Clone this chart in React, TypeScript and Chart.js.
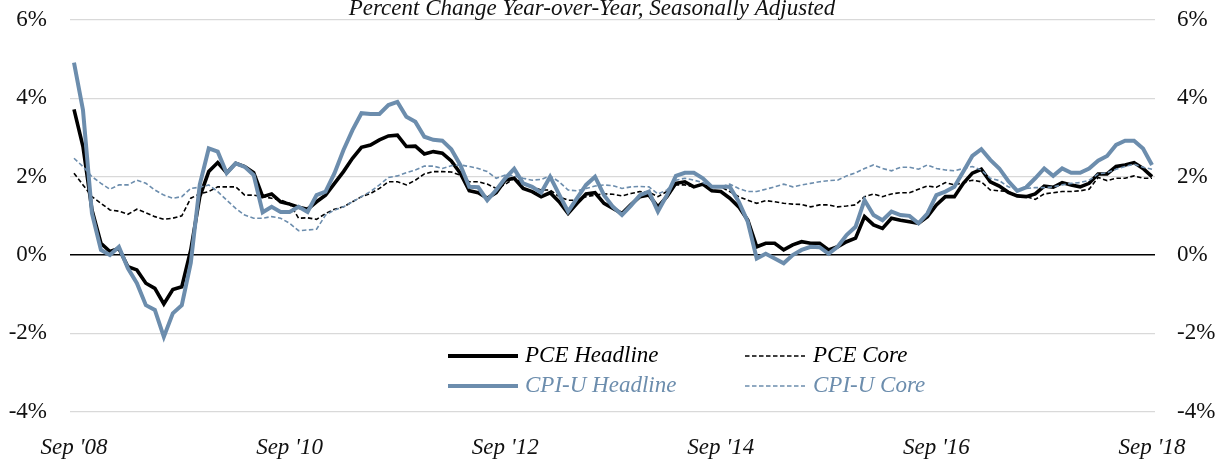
import React, { useEffect, useRef } from "react";
import { Chart, registerables } from "chart.js";

Chart.register(...registerables);

// Monthly, Sep 2008 .. Sep 2018 (121 observations)
const tickMonths = [0, 24, 48, 72, 96, 120];
const tickLabels = ["Sep '08", "Sep '10", "Sep '12", "Sep '14", "Sep '16", "Sep '18"];
const title = "Percent Change Year-over-Year, Seasonally Adjusted";

const pceHeadline = [
  3.72, 2.77, 1.15, 0.30, 0.09, 0.17, -0.30, -0.38, -0.72, -0.85, -1.25, -0.88, -0.81,
  0.13, 1.49, 2.13, 2.36, 2.10, 2.34, 2.26, 2.10, 1.49, 1.56, 1.36, 1.30,
  1.22, 1.17, 1.36, 1.53, 1.83, 2.13, 2.47, 2.75, 2.81, 2.94, 3.04, 3.06,
  2.77, 2.78, 2.58, 2.64, 2.60, 2.40, 2.09, 1.64, 1.59, 1.45, 1.59, 1.91,
  1.96, 1.70, 1.62, 1.49, 1.59, 1.36, 1.06, 1.32, 1.56, 1.59, 1.32, 1.19,
  1.06, 1.29, 1.49, 1.53, 1.23, 1.49, 1.83, 1.87, 1.74, 1.81, 1.64, 1.62,
  1.45, 1.23, 0.89, 0.21, 0.30, 0.30, 0.13, 0.26, 0.34, 0.30, 0.30, 0.13,
  0.21, 0.34, 0.43, 0.98, 0.77, 0.68, 0.94, 0.89, 0.85, 0.81, 0.98, 1.28,
  1.49, 1.49, 1.83, 2.09, 2.19, 1.87, 1.76, 1.60, 1.51, 1.49, 1.56, 1.76,
  1.73, 1.85, 1.79, 1.74, 1.83, 2.07, 2.07, 2.26, 2.30, 2.36, 2.21, 2.00,
];

const pceCore = [
  2.09, 1.79, 1.49, 1.32, 1.15, 1.12, 1.04, 1.17, 1.08, 0.98, 0.91, 0.94, 1.00,
  1.45, 1.56, 1.62, 1.74, 1.74, 1.74, 1.53, 1.53, 1.49, 1.45, 1.40, 1.32,
  0.94, 0.95, 0.91, 1.06, 1.17, 1.23, 1.36, 1.49, 1.57, 1.70, 1.87, 1.87,
  1.79, 1.91, 2.07, 2.13, 2.13, 2.12, 2.04, 1.87, 1.87, 1.81, 1.70, 1.80,
  1.96, 1.83, 1.74, 1.66, 1.66, 1.49, 1.40, 1.40, 1.49, 1.53, 1.56, 1.55,
  1.51, 1.57, 1.62, 1.60, 1.49, 1.62, 1.79, 1.79, 1.74, 1.79, 1.73, 1.74,
  1.62, 1.49, 1.40, 1.32, 1.39, 1.36, 1.32, 1.30, 1.29, 1.23, 1.28, 1.28,
  1.23, 1.25, 1.28, 1.49, 1.56, 1.49, 1.56, 1.59, 1.59, 1.68, 1.76, 1.73,
  1.85, 1.79, 1.85, 1.91, 1.87, 1.66, 1.64, 1.62, 1.50, 1.49, 1.42, 1.56,
  1.59, 1.62, 1.62, 1.64, 1.68, 1.98, 1.90, 1.96, 1.96, 2.02, 1.96, 1.96,
];

const cpiHeadline = [
  4.91, 3.70, 1.06, 0.13, 0.00, 0.21, -0.34, -0.72, -1.28, -1.40, -2.09, -1.49, -1.28,
  -0.20, 1.80, 2.72, 2.64, 2.09, 2.34, 2.25, 2.04, 1.09, 1.23, 1.10, 1.10,
  1.23, 1.10, 1.53, 1.62, 2.09, 2.68, 3.19, 3.62, 3.60, 3.60, 3.83, 3.91,
  3.53, 3.40, 3.02, 2.94, 2.92, 2.70, 2.30, 1.74, 1.73, 1.40, 1.66, 1.96,
  2.20, 1.83, 1.74, 1.59, 2.00, 1.55, 1.11, 1.45, 1.79, 2.00, 1.53, 1.23,
  1.02, 1.26, 1.53, 1.62, 1.11, 1.53, 2.02, 2.10, 2.10, 1.96, 1.74, 1.74,
  1.74, 1.36, 0.85, -0.09, 0.03, -0.09, -0.21, 0.00, 0.13, 0.21, 0.20, 0.03,
  0.21, 0.51, 0.72, 1.40, 1.02, 0.89, 1.11, 1.02, 1.00, 0.81, 1.06, 1.53,
  1.62, 1.74, 2.13, 2.53, 2.70, 2.43, 2.21, 1.89, 1.64, 1.73, 1.96, 2.21,
  2.02, 2.21, 2.10, 2.10, 2.21, 2.41, 2.53, 2.81, 2.92, 2.92, 2.72, 2.30,
];

const cpiCore = [
  2.47, 2.26, 2.00, 1.83, 1.68, 1.79, 1.79, 1.91, 1.83, 1.66, 1.53, 1.45, 1.49,
  1.70, 1.73, 1.79, 1.62, 1.40, 1.19, 1.02, 0.94, 0.94, 0.98, 0.94, 0.81,
  0.62, 0.64, 0.66, 1.02, 1.15, 1.23, 1.36, 1.49, 1.62, 1.79, 1.98, 2.02,
  2.10, 2.17, 2.27, 2.27, 2.21, 2.28, 2.30, 2.26, 2.21, 2.13, 1.96, 2.04,
  2.02, 1.96, 1.91, 1.93, 2.02, 1.87, 1.66, 1.64, 1.70, 1.76, 1.79, 1.77,
  1.70, 1.74, 1.75, 1.74, 1.56, 1.66, 1.91, 1.96, 1.91, 1.85, 1.74, 1.74,
  1.81, 1.70, 1.62, 1.62, 1.68, 1.74, 1.81, 1.74, 1.79, 1.83, 1.87, 1.90,
  1.91, 2.02, 2.10, 2.21, 2.30, 2.21, 2.15, 2.24, 2.24, 2.19, 2.30, 2.21,
  2.17, 2.15, 2.21, 2.26, 2.17, 1.96, 1.90, 1.74, 1.68, 1.70, 1.72, 1.72,
  1.74, 1.79, 1.83, 1.85, 1.91, 2.07, 2.10, 2.19, 2.26, 2.32, 2.24, 2.19,
];

const BLACK = "#000000";
const BLUE = "#6C8DAD";
const FONT = "'Liberation Serif', 'Times New Roman', serif";

const toPoints = (arr: number[]) => arr.map((y, i) => ({ x: i, y }));

const overlayPlugin = {
  id: "overlay",
  afterDraw(chart: any) {
    const ctx = chart.ctx as CanvasRenderingContext2D;
    ctx.save();
    // title (partly cut at the top, as in the reference)
    ctx.font = `italic 23px ${FONT}`;
    ctx.fillStyle = "#111";
    ctx.textAlign = "center";
    ctx.textBaseline = "alphabetic";
    ctx.fillText(title, 592, 15);

    // legend
    const items = [
      { label: "PCE Headline", color: BLACK, width: 4, dash: [] as number[], x: 448, y: 356, textColor: "#000" },
      { label: "PCE Core", color: BLACK, width: 1.6, dash: [4.5, 2.5], x: 745, y: 356, textColor: "#000" },
      { label: "CPI-U Headline", color: BLUE, width: 4, dash: [] as number[], x: 448, y: 386, textColor: BLUE },
      { label: "CPI-U Core", color: BLUE, width: 1.6, dash: [4.5, 2.5], x: 745, y: 386, textColor: BLUE },
    ];
    ctx.textAlign = "left";
    ctx.textBaseline = "middle";
    for (const it of items) {
      ctx.beginPath();
      ctx.setLineDash(it.dash);
      ctx.strokeStyle = it.color;
      ctx.lineWidth = it.width;
      ctx.lineCap = "butt";
      ctx.moveTo(it.x, it.y);
      ctx.lineTo(it.x + (it.dash.length ? 60 : 70), it.y);
      ctx.stroke();
      ctx.setLineDash([]);
      ctx.fillStyle = it.textColor;
      ctx.font = `italic 23px ${FONT}`;
      ctx.fillText(it.label, it.x + (it.dash.length ? 68 : 77), it.y);
    }
    ctx.restore();
  },
};

export default function App() {
  const ref = useRef<HTMLCanvasElement | null>(null);

  useEffect(() => {
    document.body.style.margin = "0";
    const canvas = ref.current;
    if (!canvas) return;
    const yTicks = {
      stepSize: 2,
      color: "#111",
      font: { family: FONT, size: 23 },
      callback: (v: any) => `${v}%`,
    };
    const noPad = (scale: any) => {
      scale.paddingTop = 0;
      scale.paddingBottom = 0;
      scale.paddingLeft = 0;
      scale.paddingRight = 0;
    };
    const chart = new Chart(canvas, {
      type: "line",
      data: {
        datasets: [
          {
            label: "PCE Headline",
            data: toPoints(pceHeadline),
            borderColor: BLACK,
            borderWidth: 3.6,
            pointRadius: 0,
            tension: 0,
            order: 4,
          },
          {
            label: "PCE Core",
            data: toPoints(pceCore),
            borderColor: BLACK,
            borderWidth: 1.6,
            borderDash: [4.5, 2.5],
            pointRadius: 0,
            tension: 0,
            order: 3,
          },
          {
            label: "CPI-U Headline",
            data: toPoints(cpiHeadline),
            borderColor: BLUE,
            borderWidth: 4,
            pointRadius: 0,
            tension: 0,
            order: 2,
          },
          {
            label: "CPI-U Core",
            data: toPoints(cpiCore),
            borderColor: BLUE,
            borderWidth: 1.6,
            borderDash: [4.5, 2.5],
            pointRadius: 0,
            tension: 0,
            order: 1,
          },
        ],
      },
      options: {
        animation: false,
        responsive: false,
        maintainAspectRatio: false,
        layout: { padding: { top: 20, left: 0, right: 0, bottom: 0 } },
        plugins: {
          legend: { display: false },
          title: { display: false },
          tooltip: { enabled: false },
        },
        scales: {
          x: {
            type: "linear",
            min: -0.445,
            max: 120.334,
            grid: { display: false, drawTicks: false },
            border: { display: false },
            afterBuildTicks: (scale: any) => {
              scale.ticks = tickMonths.map((v) => ({ value: v }));
            },
            afterFit: (scale: any) => {
              scale.height = 47.3;
              noPad(scale);
            },
            ticks: {
              autoSkip: false,
              maxRotation: 0,
              minRotation: 0,
              padding: 22,
              color: "#111",
              font: { family: FONT, size: 23, style: "italic" },
              callback: (v: any) => {
                const k = tickMonths.indexOf(Number(v));
                return k >= 0 ? tickLabels[k] : "";
              },
            },
          },
          y: {
            position: "left",
            min: -4,
            max: 6,
            grid: {
              drawTicks: false,
              color: (c: any) => (c.tick && c.tick.value === 0 ? "#000000" : "#D9D9D9"),
              lineWidth: (c: any) => (c.tick && c.tick.value === 0 ? 1.5 : 1.2),
            },
            border: { display: false },
            ticks: { ...yTicks, padding: 23 },
            afterFit: (scale: any) => {
              scale.width = 70;
              noPad(scale);
            },
          },
          y2: {
            position: "right",
            min: -4,
            max: 6,
            grid: { display: false, drawTicks: false },
            border: { display: false },
            ticks: { ...yTicks, padding: 22 },
            afterFit: (scale: any) => {
              scale.width = 73;
              noPad(scale);
            },
          },
        },
      },
      plugins: [overlayPlugin],
    } as any);
    return () => chart.destroy();
  }, []);

  return (
    <div style={{ position: "absolute", left: 0, top: 0, width: 1228, height: 459, background: "#fff" }}>
      <canvas ref={ref} width={1228} height={459} style={{ display: "block", width: 1228, height: 459 }} />
    </div>
  );
}
